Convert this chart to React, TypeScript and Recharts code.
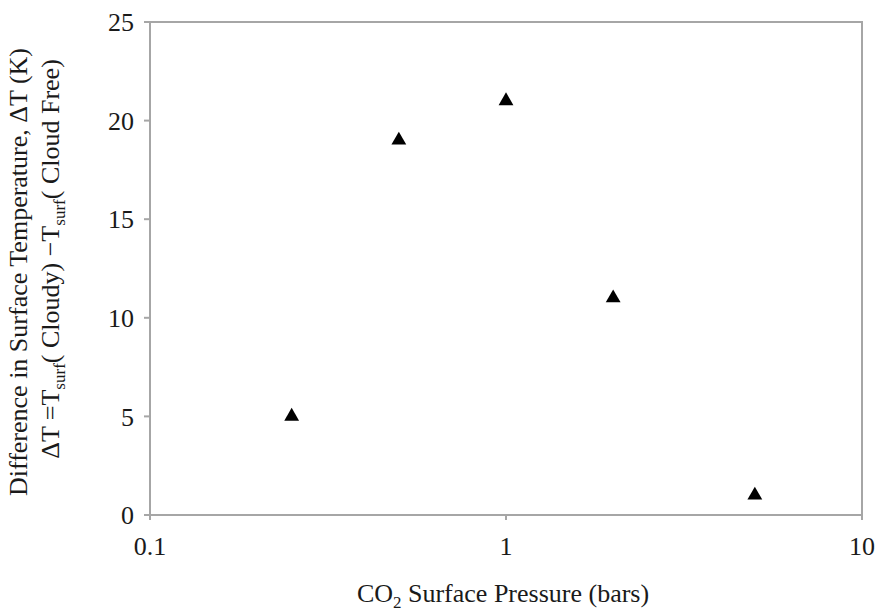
import React from 'react';
import {
  ScatterChart,
  Scatter,
  XAxis,
  YAxis,
  ZAxis,
  ReferenceArea,
} from 'recharts';

// CO2 surface pressure (bars) and the cloudy minus cloud-free temperature difference (K)
const pressures = [0.25, 0.5, 1, 2, 5];
const deltaT = [5, 19, 21, 11, 1];
const xTicks = [0.1, 1, 10];
const yTicks = [0, 5, 10, 15, 20, 25];

const data = pressures.map((p, i) => ({ x: p, y: deltaT[i] }));

const FONT = '"Liberation Serif", "Times New Roman", serif';
const TEXT = '#1a1a1a';
const AXIS = '#a6a6a6';

const YTitle = () => (
  <g fontFamily={FONT} fill={TEXT} fontSize={26}>
    <text x={27} y={272} textAnchor="middle" transform="rotate(-90 27 272)">
      Difference in Surface Temperature, ΔT (K)
    </text>
    <text x={59} y={259} textAnchor="middle" transform="rotate(-90 59 259)">
      <tspan>ΔT =T</tspan>
      <tspan fontSize={17} dy={6}>surf</tspan>
      <tspan dy={-6}>( Cloudy) −T</tspan>
      <tspan fontSize={17} dy={6}>surf</tspan>
      <tspan dy={-6}>( Cloud Free)</tspan>
    </text>
  </g>
);

const XTitle = () => (
  <text x={503} y={602} textAnchor="middle" fontFamily={FONT} fill={TEXT} fontSize={26}>
    <tspan>CO</tspan>
    <tspan fontSize={17} dy={6}>2</tspan>
    <tspan dy={-6}> Surface Pressure (bars)</tspan>
  </text>
);

export default function App() {
  return (
    <div style={{ position: 'absolute', left: 0, top: 0, background: '#fff' }}>
      <ScatterChart
        width={875}
        height={611}
        margin={{ top: 22, right: 13, left: 0, bottom: 0 }}
      >
        <XAxis
          dataKey="x"
          type="number"
          scale="log"
          domain={[0.1, 10]}
          ticks={xTicks}
          allowDataOverflow
          height={96}
          stroke={AXIS}
          strokeWidth={2}
          tickSize={5}
          tickMargin={17}
          tickFormatter={(v: number) => String(v)}
          tick={{ fill: TEXT, fontSize: 26, fontFamily: FONT }}
        />
        <YAxis
          dataKey="y"
          type="number"
          domain={[0, 25]}
          ticks={yTicks}
          width={150}
          stroke={AXIS}
          strokeWidth={2}
          tickSize={6}
          tickMargin={10}
          tick={{ fill: TEXT, fontSize: 26, fontFamily: FONT }}
        />
        <ZAxis range={[95, 95]} />
        <ReferenceArea
          x1={0.1}
          x2={10}
          y1={0}
          y2={25}
          fill="none"
          stroke={AXIS}
          strokeWidth={2}
          ifOverflow="extendDomain"
        />
        <Scatter
          data={data}
          shape="triangle"
          fill="#000"
          isAnimationActive={false}
        />
      </ScatterChart>
      <svg
        width={875}
        height={611}
        style={{ position: 'absolute', left: 0, top: 0, pointerEvents: 'none' }}
      >
        <YTitle />
        <XTitle />
      </svg>
    </div>
  );
}
